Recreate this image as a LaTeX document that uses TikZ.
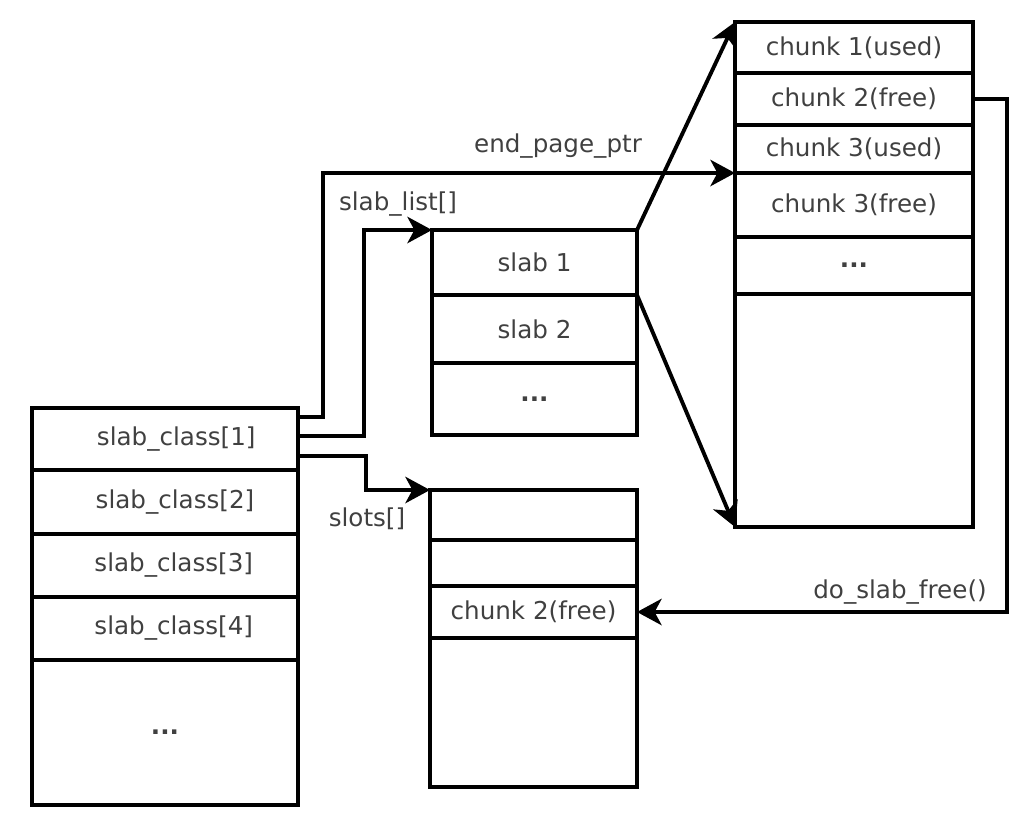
\documentclass[tikz,border=0pt]{standalone}
\usepackage{fontspec}
\setmainfont{DejaVu Sans}
\usetikzlibrary{arrows.meta,positioning}

\begin{document}
\begin{tikzpicture}[
  cell/.style={draw, line width=2.2pt, rectangle, outer sep=0pt, inner sep=0pt, text=black!75, font=\fontsize{14}{16}\selectfont},
  lbl/.style={text=black!75, font=\fontsize{14}{16}\selectfont},
  ptr/.style={-{Stealth[length=14pt,width=15pt,inset=4pt]}, line width=2.2pt, line join=miter}]
\useasboundingbox (0cm,0cm) rectangle (20.72cm,-16.3cm);

% slab_class[] array
\node[cell, minimum width=5.32cm, minimum height=1.24cm] (sc1) at (3.3cm,-8.78cm) {\hspace*{0.45cm}slab\_class[1]};
\node[cell, minimum width=5.32cm, minimum height=1.28cm, below=0pt of sc1] (sc2) {\hspace*{0.4cm}slab\_class[2]};
\node[cell, minimum width=5.32cm, minimum height=1.26cm, below=0pt of sc2] (sc3) {\hspace*{0.35cm}slab\_class[3]};
\node[cell, minimum width=5.32cm, minimum height=1.26cm, below=0pt of sc3] (sc4) {\hspace*{0.35cm}slab\_class[4]};
\node[cell, minimum width=5.32cm, minimum height=2.9cm, below=0pt of sc4] (sc5) {\textbf{...}};

% slab list
\node[cell, minimum width=4.1cm, minimum height=1.3cm] (sl1) at (10.69cm,-5.25cm) {slab 1};
\node[cell, minimum width=4.1cm, minimum height=1.36cm, below=0pt of sl1] (sl2) {slab 2};
\node[cell, minimum width=4.1cm, minimum height=1.44cm, below=0pt of sl2] (sl3) {\textbf{...}};

% slots
\node[cell, minimum width=4.14cm, minimum height=1cm] (st1) at (10.67cm,-10.3cm) {};
\node[cell, minimum width=4.14cm, minimum height=0.92cm, below=0pt of st1] (st2) {};
\node[cell, minimum width=4.14cm, minimum height=1.04cm, below=0pt of st2] (st3) {chunk 2(free)};
\node[cell, minimum width=4.14cm, minimum height=2.98cm, below=0pt of st3] (st4) {};

% chunks of a slab page
\node[cell, minimum width=4.76cm, minimum height=1.02cm] (ch1) at (17.08cm,-0.95cm) {chunk 1(used)};
\node[cell, minimum width=4.76cm, minimum height=1.04cm, below=0pt of ch1] (ch2) {chunk 2(free)};
\node[cell, minimum width=4.76cm, minimum height=0.96cm, below=0pt of ch2] (ch3) {chunk 3(used)};
\node[cell, minimum width=4.76cm, minimum height=1.28cm, below=0pt of ch3] (ch4) {chunk 3(free)};
\node[cell, minimum width=4.76cm, minimum height=1.14cm, below=0pt of ch4] (ch5) {\textbf{...}};
\node[cell, minimum width=4.76cm, minimum height=4.66cm, below=0pt of ch5] (ch6) {};

% pointers
\draw[ptr] ([yshift=-0.18cm]sc1.north east) -- ++(0.5cm,0) |- (ch4.north west);
\draw[ptr] ([yshift=0.06cm]sc1.east) -- ++(1.32cm,0) |- (sl1.north west);
\draw[ptr] ([yshift=-0.34cm]sc1.east) -- ++(1.36cm,0) |- (st1.north west);
\draw[ptr] (sl1.north east) -- (ch1.north west);
\draw[ptr] (sl2.north east) -- (ch6.south west);
\draw[ptr] (ch2.east) -- ++(0.68cm,0) |- (st3.east);

% labels
\node[lbl] (lend) at (11.16cm,-2.92cm) {end\_page\_ptr};
\node[lbl] (llist) at (7.96cm,-4.08cm) {slab\_list[]};
\node[lbl] (lslots) at (7.34cm,-10.38cm) {slots[]};
\node[lbl] (lfree) at (18cm,-11.84cm) {do\_slab\_free()};
\end{tikzpicture}
\end{document}
